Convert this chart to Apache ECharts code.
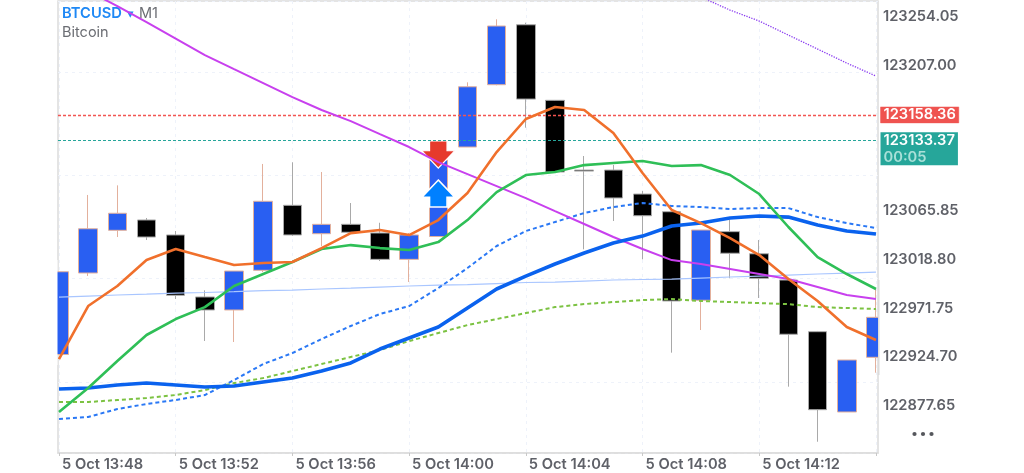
<!DOCTYPE html>
<html>
<head>
<meta charset="utf-8">
<style>html,body{margin:0;padding:0;background:#fff}#c{width:1024px;height:473px}</style>
<script src="https://cdn.jsdelivr.net/npm/echarts@6/dist/echarts.min.js"></script>
</head>
<body>
<div id="c"></div>
<script>
const timeLabels = ['13:48','13:49','13:50','13:51','13:52','13:53','13:54','13:55','13:56','13:57','13:58','13:59','14:00','14:01','14:02','14:03','14:04','14:05','14:06','14:07','14:08','14:09','14:10','14:11','14:12','14:13','14:14','14:15','14:16'];
const opens = [122926.5,123005.4,123046.7,123056.7,123042.2,122982.2,122969.6,123008,123070.9,123043.4,123052.5,123044.1,123018.6,123040.7,123127.3,123187.6,123245.6,123172.5,123105,123105,123081.8,123064.7,122979,123045.4,123024,122998.6,122948.6,122870.9,122923.8];
const closes = [123006.6,123048.2,123063.2,123040.2,122983.8,122969.6,123007.3,123074.8,123042.2,123052.5,123044.8,123018.6,123042.2,123114.7,123185.6,123244.4,123173.7,123103.1,123104,123078,123060.8,122978.3,123047,123024.5,123000.3,122946.1,122873.1,122921.2,122962.5];
const lows = [122926.5,123002.5,123040.2,123037.3,122980.2,122939.6,122938.6,123006.3,123041.2,123031.5,123044.1,123017,122996.7,123040.2,123127.3,123187,123146,123102.2,123028.3,123055.7,123018.6,122928.3,122950.2,123000.3,122981.2,122895.4,122842.1,122870.9,122908.9];
const highs = [123006.6,123080.9,123090.2,123058.6,123046,122988.6,123007.3,123110.9,123112.5,123103.1,123073.1,123054,123044.1,123122.5,123189.9,123250.9,123247.6,123172.8,123118.6,123109.9,123084.7,123065.4,123047,123056.7,123037.3,122999.1,122949.3,122921.2,122989.9];
const maPurple = [123291.8,123278.2,123263.7,123248.2,123232.2,123216.3,123202.7,123189.2,123175.6,123163.1,123152.4,123139.8,123127.3,123112.7,123101.1,123089.5,123077.9,123065.3,123052.8,123040.2,123028.6,123017.9,123014.1,123009.2,123004.4,122999.5,122991.8,122984.1,122980.2];
const maPurpleDotted = [null,null,null,null,null,null,null,null,null,null,null,null,null,null,null,null,null,null,null,null,null,null,123272.4,123259.8,123249.2,123235.6,123222.1,123208.5,123196];
const maOrange = [122922.1,122973.4,122992.8,123017.9,123028.6,123020.8,123013.1,123015,123016,123029.5,123044,123047,123042.1,123056.6,123082.8,123122.4,123154.4,123166,123163.1,123140.8,123102.1,123066.3,123053.7,123039.2,123022.8,122999.5,122978.3,122953.1,122940.5];
const maGreen = [122870.8,122894.1,122920.2,122945.4,122960.8,122972.4,122992.8,123004.4,123016,123028.6,123032.4,123029.5,123027.6,123035.3,123056.6,123083.7,123100.2,123103.1,123109.8,123111.8,123113.7,123108.9,123109.8,123100.2,123081.8,123049.9,123020.8,123004.4,122989.9];
const maBlue = [122893.1,122894.1,122897,122898.9,122897,122895,122896,122899.9,122903.7,122910.5,122918.3,122931.8,122942.5,122953.1,122971.5,122989.9,123002.4,123014.1,123024.7,123034.4,123041.1,123050.8,123053.7,123058.6,123060.5,123059.5,123051.8,123046,123043.1];
const maBlueDashed = [122864.1,122866,122873.8,122878.6,122882.5,122887.3,122901.8,122917.3,122927.9,122941.5,122954.1,122965.7,122973.4,122990.8,123010.2,123031.5,123046,123054.7,123063.4,123069.2,123073.1,123070.2,123069.2,123067.3,123068.2,123068.2,123059.5,123053.7,123048.9];
const maGreenDashed = [122880.5,122880.5,122882.5,122884.4,122887.3,122892.1,122898.9,122903.7,122910.5,122917.3,122924.1,122930.8,122939.5,122947.3,122955,122960.8,122966.6,122972.4,122975.3,122977.3,122979.2,122980.2,122978.3,122977.3,122976.3,122975.3,122972.4,122971.5,122970.5];
const maLightBlue = [122982.1,122983.1,122984.1,122985,122986,122986.5,122987.4,122988.4,122988.9,122989.9,122990.8,122991.8,122992.8,122993.7,122994.2,122995.2,122996.2,122996.6,122997.6,122998.6,122999.1,122999.5,123000.5,123001.5,123002.4,123003.4,123004.4,123005.3,123006.3];
const yTickLabels = [122877.65,122924.70,122971.75,123018.80,123065.85,123207.00,123254.05];
const yGridValues = [122877.65,122924.70,122971.75,123018.80,123065.85,123112.90,123159.95,123207.00,123254.05];
const xLabelIdx = [0,4,8,12,16,20,24];
const xTickIdx = [0,4,8,12,16,20,24,28];
const xGridIdx = [2,4,6,8,10,12,14,16,18,20,22,24,26,28];
const askPrice = 123158.36, bidPrice = 123133.37, countdown = '00:05';
const sellArrow = [13, 123120.0], buyArrow = [13, 123082.3];

const fontFamily = 'Inter, "Noto Sans", sans-serif';
const chart = echarts.init(document.getElementById('c'), null, {renderer:'canvas'});
const xs = timeLabels.map((_, i) => i);
const pair = arr => arr.map((v, i) => [i, v]);
const line = (name, arr, color, width, type, z) => ({
  name, type:'line', data: pair(arr), symbol:'none', smooth:false, z, silent:true, connectNulls:false,
  lineStyle:{color, width, type}, animation:false
});
const axisText = {color:'#5f6168', fontFamily, fontWeight:600, fontSize:14.7};
const yMin = 122831.2, yMax = 123268.6;

chart.setOption({
  animation:false,
  backgroundColor:'#fff',
  title:{
    left:62, top:5, padding:0,
    text:'{a|BTCUSD} {b|▾} {c|M1}\n{d|Bitcoin}',
    textStyle:{fontWeight:'normal',rich:{
      a:{color:'#1e88f5',fontSize:14.7,fontWeight:600,fontFamily,lineHeight:17},
      b:{color:'#1e88f5',fontSize:13,fontFamily,lineHeight:17},
      c:{color:'#6b6d73',fontSize:14.5,fontWeight:'normal',fontFamily,lineHeight:17},
      d:{color:'#6b6d73',fontSize:14.5,fontWeight:'normal',fontFamily,lineHeight:19}
    }}
  },
  grid:{left:58,right:146,top:1,bottom:20,show:true,borderColor:'#dcdcdc',borderWidth:1.5,backgroundColor:'transparent',containLabel:false},
  xAxis:{
    type:'value', min:-0.034, max:28.07,
    axisLine:{show:true,lineStyle:{color:'#dcdcdc',width:1.5}},
    axisTick:{show:true,length:3,customValues:xTickIdx,lineStyle:{color:'#c8c8c8'}},
    axisLabel:{show:true,customValues:xLabelIdx,align:'left',margin:4,padding:[0,0,0,3],showMinLabel:true,showMaxLabel:true,
      ...axisText, formatter:v=>'5 Oct '+timeLabels[Math.round(v)]},
    splitLine:{show:true,customValues:xGridIdx,lineStyle:{color:'#eef2fa',type:[3,4],width:1}}
  },
  yAxis:[{
    type:'value', position:'right', min:yMin, max:yMax, scale:true, z:12,
    axisLine:{show:false}, axisTick:{show:false},
    axisLabel:{show:true,customValues:yTickLabels,align:'left',margin:5,formatter:v=>'{v|'+v.toFixed(2)+'}',
      rich:{v:{...axisText,verticalAlign:'bottom',lineHeight:16,padding:[4,0,0,0]}}},
    splitLine:{show:false}
  },{
    type:'value', position:'right', min:yMin, max:yMax, scale:true, z:0,
    axisLine:{show:false}, axisTick:{show:false}, axisLabel:{show:false},
    splitLine:{show:true,customValues:yGridValues,lineStyle:{color:'#eef2fa',type:[3,4],width:1}}
  }],
  series:[
    {type:'candlestick',name:'BTCUSD',z:2,barWidth:19,silent:true,
     encode:{x:0,y:[1,2,3,4]},
     data:xs.map(i=>[i,opens[i],closes[i],lows[i],highs[i]]),
     itemStyle:{color:'#295ff2',color0:'#000',borderColor:'#e3b09c',borderColor0:'#a9a9a9',borderWidth:1}},
    {type:'scatter',name:'sell',z:3,silent:true,data:[sellArrow],symbol:'path://M7,0L23,0L23,9L30,9L15,25L0,9L7,9Z',symbolSize:[33,27],itemStyle:{color:'#e63a2c',borderColor:'#fff',borderWidth:1.2,opacity:1}},
    {type:'scatter',name:'buy',z:3,silent:true,data:[buyArrow],symbol:'path://M15,0L30,16L23,16L23,25L7,25L7,16L0,16Z',symbolSize:[33,27],itemStyle:{color:'#0080ff',borderColor:'#fff',borderWidth:1.5,opacity:1}},
    Object.assign(line('lightblue',maLightBlue,'#a9c6ff',1.2,'solid',4),{
      markLine:{silent:true,symbol:'none',animation:false,label:{show:false},
        data:[{yAxis:askPrice,lineStyle:{color:'#f25552',type:[3,2],width:1.4}},{yAxis:bidPrice,lineStyle:{color:'#26a69a',type:[3,2],width:1.2}}]},
      markPoint:{silent:true,animation:false,symbol:'circle',symbolSize:1,itemStyle:{color:'transparent'},z:20,
        data:[
          {coord:[28.07,askPrice],label:{show:true,position:'right',distance:2,offset:[0,0],
            formatter:askPrice.toFixed(2),color:'#fff',fontFamily,fontWeight:600,fontSize:14.7,
            backgroundColor:'#ef5350',padding:[1,3,0,3],borderColor:'#f7b5b3',borderWidth:0.5}},
          {coord:[28.07,bidPrice],label:{show:true,position:'right',distance:2,offset:[0,8],
            formatter:'{p|'+bidPrice.toFixed(2)+'}\n{t|'+countdown+'}',
            backgroundColor:'#26a69a',padding:[0,3,0,3],
            rich:{p:{color:'#fff',fontFamily,fontWeight:600,fontSize:14.7,lineHeight:17},
                  t:{color:'#a9e0d8',fontFamily,fontWeight:600,fontSize:14.7,lineHeight:16}}}}
        ]}
    }),
    line('greendash',maGreenDashed,'#7cc242',2,[4,3],5),
    line('bluedash',maBlueDashed,'#2a78f5',2,[4,3],5),
    line('dotted',maPurpleDotted,'#8a3cf0',1.3,[1.3,1.3],5),
    line('purple',maPurple,'#c840ee',2,'solid',6),
    line('blue',maBlue,'#0a62ee',3.6,'solid',7),
    line('green',maGreen,'#2fbf57',2.6,'solid',8),
    line('orange',maOrange,'#f0702c',2.6,'solid',9)
  ],
  graphic:[
    {type:'rect',silent:true,z:5,shape:{x:0,y:260,width:57.5,height:105},style:{fill:'#fff'}},
    {type:'rect',silent:true,z:5,shape:{x:878,y:280,width:12,height:95},style:{fill:'#fff'}},
    {type:'rect',silent:true,z:6,shape:{x:878,y:280,width:1.5,height:95},style:{fill:'#dcdcdc'}},
    {type:'circle',silent:true,shape:{cx:914.5,cy:434,r:2.1},style:{fill:'#55575c'}},
    {type:'circle',silent:true,shape:{cx:923,cy:434,r:2.1},style:{fill:'#55575c'}},
    {type:'circle',silent:true,shape:{cx:931.5,cy:434,r:2.1},style:{fill:'#55575c'}}
  ]
});
</script>
</body>
</html>
